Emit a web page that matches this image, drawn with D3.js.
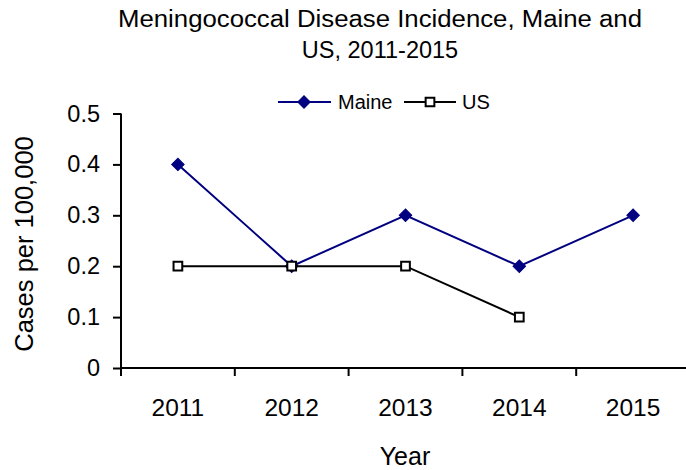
<!DOCTYPE html>
<html>
<head>
<meta charset="utf-8">
<script src="https://cdn.jsdelivr.net/npm/d3@7"></script>
<style>
  html, body { margin: 0; padding: 0; background: #fff; }
  svg { display: block; font-family: "Liberation Sans", Arial, sans-serif; }
</style>
</head>
<body>
<svg id="chart" width="686" height="470"></svg>
<script>
// Meningococcal disease incidence (cases per 100,000)
const years = ["2011", "2012", "2013", "2014", "2015"];
const maineValues = [0.4, 0.2, 0.3, 0.2, 0.3];
const usValues = [0.2, 0.2, 0.2, 0.1, null];
const yTicks = [0, 0.1, 0.2, 0.3, 0.4, 0.5];
const titleLines = ["Meningococcal Disease Incidence, Maine and", "US, 2011-2015"];

const svg = d3.select("#chart");

const x = d3.scaleBand().domain(years).range([121, 690]).padding(0);
const y = d3.scaleLinear().domain([0, 0.5]).range([368, 113.5]);
const cx = d => x(d) + x.bandwidth() / 2;

// Title
svg.append("g").selectAll("text").data(titleLines).join("text")
  .attr("x", 380).attr("y", (d, i) => 27 + i * 31)
  .attr("text-anchor", "middle")
  .attr("font-size", 23.5)
  .attr("fill", "#000")
  .each(function (d, i) {
    if (i === 0) d3.select(this).attr("textLength", 524).attr("lengthAdjust", "spacingAndGlyphs");
  })
  .text(d => d);

// Y axis
const yAxis = d3.axisLeft(y).tickValues(yTicks)
  .tickFormat(d => d === 0 ? "0" : d3.format(".1f")(d))
  .tickSize(8).tickPadding(13);
const gy = svg.append("g").attr("transform", "translate(121,0)").call(yAxis);
gy.select(".domain").remove();
gy.selectAll(".tick line").attr("stroke", "#000").attr("stroke-width", 2);
gy.selectAll(".tick text").attr("font-size", 23.5).attr("fill", "#000")
  .attr("font-family", "'Liberation Sans', Arial, sans-serif");
svg.append("line")
  .attr("x1", 121).attr("x2", 121)
  .attr("y1", y(0.5)).attr("y2", y(0) + 8)
  .attr("stroke", "#000").attr("stroke-width", 2);

// X axis: boundary ticks between categories, labels at band centres
svg.append("line")
  .attr("x1", 121).attr("x2", 690)
  .attr("y1", y(0)).attr("y2", y(0))
  .attr("stroke", "#000").attr("stroke-width", 2);
svg.append("g").selectAll("line").data(years.slice(1)).join("line")
  .attr("x1", d => x(d)).attr("x2", d => x(d))
  .attr("y1", y(0)).attr("y2", y(0) + 8)
  .attr("stroke", "#000").attr("stroke-width", 2);
svg.append("g").selectAll("text").data(years).join("text")
  .attr("x", d => cx(d)).attr("y", 416)
  .attr("text-anchor", "middle")
  .attr("font-size", 24.5)
  .attr("fill", "#000")
  .text(d => d);

// Axis titles
svg.append("text")
  .attr("x", 405).attr("y", 465)
  .attr("text-anchor", "middle")
  .attr("font-size", 25)
  .text("Year");
svg.append("text")
  .attr("transform", "translate(33,244) rotate(-90)")
  .attr("text-anchor", "middle")
  .attr("font-size", 25.5)
  .text("Cases per 100,000");

// Series
const line = d3.line()
  .defined(d => d.v !== null)
  .x(d => cx(d.k)).y(d => y(d.v));

const maine = years.map((k, i) => ({ k, v: maineValues[i] }));
const us = years.map((k, i) => ({ k, v: usValues[i] }));

// Diamond = square turned 45 degrees
const diamond = d3.symbol().type(d3.symbolSquare).size(78);
const square = d3.symbol().type(d3.symbolSquare).size(76);

svg.append("path").datum(maine).attr("d", line)
  .attr("fill", "none").attr("stroke", "#000080").attr("stroke-width", 2);
svg.append("g").selectAll("path").data(maine.filter(d => d.v !== null)).join("path")
  .attr("transform", d => `translate(${cx(d.k)},${y(d.v)}) rotate(45)`)
  .attr("d", diamond).attr("fill", "#000080").attr("stroke", "#000080").attr("stroke-width", 1);

svg.append("path").datum(us).attr("d", line)
  .attr("fill", "none").attr("stroke", "#000").attr("stroke-width", 2);
svg.append("g").selectAll("path").data(us.filter(d => d.v !== null)).join("path")
  .attr("transform", d => `translate(${cx(d.k)},${y(d.v)})`)
  .attr("d", square).attr("fill", "#fff").attr("stroke", "#000").attr("stroke-width", 2);

// Legend
const legend = svg.append("g");
legend.append("line").attr("x1", 278).attr("x2", 331).attr("y1", 102).attr("y2", 102)
  .attr("stroke", "#000080").attr("stroke-width", 2);
legend.append("path").attr("transform", "translate(304,102) rotate(45)").attr("d", diamond)
  .attr("fill", "#000080").attr("stroke", "#000080");
legend.append("text").attr("x", 338).attr("y", 109).attr("font-size", 20).text("Maine");
legend.append("line").attr("x1", 404).attr("x2", 456).attr("y1", 102).attr("y2", 102)
  .attr("stroke", "#000").attr("stroke-width", 2);
legend.append("path").attr("transform", "translate(430,102)").attr("d", square)
  .attr("fill", "#fff").attr("stroke", "#000").attr("stroke-width", 2);
legend.append("text").attr("x", 462).attr("y", 109).attr("font-size", 20).text("US");
</script>
</body>
</html>
